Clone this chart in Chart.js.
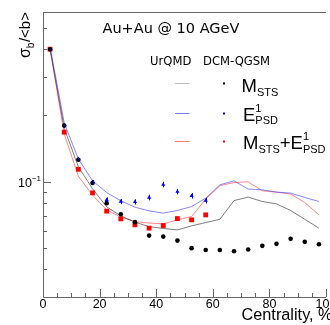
<!DOCTYPE html>
<html>
<head>
<meta charset="utf-8">
<script src="https://cdn.jsdelivr.net/npm/chart.js@4.4.1/dist/chart.umd.min.js"></script>
<style>
  html, body { margin: 0; padding: 0; background: #fff; overflow: hidden; }
  canvas { display: block; }
</style>
</head>
<body>
<canvas id="chart" width="330" height="325" style="width:330px;height:325px"></canvas>
<script>
// centrality bins (%), bin centres
const centrality = [2.5, 7.5, 12.5, 17.5, 22.5, 27.5, 32.5, 37.5, 42.5, 47.5,
  52.5, 57.5, 62.5, 67.5, 72.5, 77.5, 82.5, 87.5, 92.5, 97.5];

// UrQMD (lines)
const urqmdMsts = [0.400, 0.175, 0.117, 0.093, 0.077, 0.070, 0.0656, 0.0626, 0.0614, 0.0605,
  0.0631, 0.0653, 0.0676, 0.0822, 0.0852, 0.0814, 0.0794, 0.0741, 0.0676, 0.0616];
const urqmdEpsd = [0.410, 0.185, 0.127, 0.101, 0.0894, 0.082, 0.0767, 0.0738, 0.0721, 0.0741,
  0.0772, 0.0843, 0.0969, 0.101, 0.0927, 0.092, 0.0898, 0.0889, 0.0849, 0.0814];
const urqmdBoth = [0.400, 0.165, 0.106, 0.087, 0.0746, 0.0691, 0.066, 0.065, 0.0644, 0.0672,
  0.0696, 0.0834, 0.096, 0.0993, 0.100, 0.091, 0.0898, 0.088, 0.0805, 0.0708];

// DCM-QGSM (markers)
const dcmMsts = [0.400, 0.180, 0.126, 0.0987, 0.080, 0.0713, 0.0656, 0.057, 0.0564, 0.0541,
  0.050, 0.049, 0.049, 0.0484, 0.0493, 0.0512, 0.0523, 0.0551, 0.0534, 0.0521];
const dcmEpsd = [0.400, 0.180, 0.127, 0.100, 0.0828, 0.0814, 0.0811, 0.0849, 0.0972, 0.0903,
  0.0864, 0.0822];
const dcmEpsdErr = [0.003, 0.002, 0.002, 0.002, 0.0022, 0.0022, 0.0022, 0.0025, 0.0028, 0.0026,
  0.0025, 0.0025];
const dcmBoth = [0.400, 0.168, 0.114, 0.0891, 0.0736, 0.0679, 0.0638, 0.0616, 0.0633, 0.0681,
  0.0672, 0.0708];

const xMajor = [0, 20, 40, 60, 80, 100];
const xMinor = [5, 10, 15, 25, 30, 35, 45, 50, 55, 65, 70, 75, 85, 90, 95];
const yMajor = [0.1];
const yMinor = [0.04, 0.05, 0.06, 0.07, 0.08, 0.09, 0.2, 0.3, 0.4, 0.5];

const LINE_GRAY = "rgba(0, 0, 0, 0.5)";
const LINE_BLUE = "rgba(70, 70, 255, 0.65)";
const LINE_RED = "rgba(255, 70, 70, 0.65)";
const KEY_GRAY = "#bdbdbd";
const KEY_BLUE = "#7a7aff";
const KEY_RED = "#ff7a7a";
const SANS = "'Liberation Sans', Arial, sans-serif";
const DEJAVU = "'DejaVu Sans', sans-serif";

const pts = (ys) => ys.map((y, i) => ({ x: centrality[i], y }));

function lineSet(label, ys, color) {
  return {
    label, data: pts(ys), borderColor: color, borderWidth: 1,
    pointRadius: 0, tension: 0, fill: false, order: 2,
  };
}

function markerSet(label, ys, color, style, radius) {
  return {
    label, data: pts(ys), showLine: false, pointStyle: style, pointRadius: radius,
    pointBackgroundColor: color, pointBorderColor: color, pointBorderWidth: 0, order: 1,
  };
}

function text(ctx, str, x, y, font, align = "left") {
  ctx.font = font;
  ctx.textAlign = align;
  ctx.fillText(str, x, y);
  return ctx.measureText(str).width;
}

const axesPlugin = {
  id: "rootAxes",
  beforeDatasetsDraw(chart) {
    const { ctx, chartArea: a, scales } = chart;
    ctx.save();
    ctx.strokeStyle = "#666";
    ctx.lineWidth = 1;
    ctx.beginPath();
    ctx.moveTo(a.left + 0.5, a.top + 0.5);
    ctx.lineTo(a.right, a.top + 0.5);
    ctx.moveTo(a.left + 0.5, a.top);
    ctx.lineTo(a.left + 0.5, a.bottom + 0.5);
    ctx.lineTo(a.right, a.bottom + 0.5);
    xMajor.forEach((v) => {
      const x = Math.round(scales.x.getPixelForValue(v)) + 0.5;
      ctx.moveTo(x, a.bottom); ctx.lineTo(x, a.bottom - 8);
    });
    xMinor.forEach((v) => {
      const x = Math.round(scales.x.getPixelForValue(v)) + 0.5;
      ctx.moveTo(x, a.bottom); ctx.lineTo(x, a.bottom - 4);
    });
    yMajor.forEach((v) => {
      const y = Math.round(scales.y.getPixelForValue(v)) + 0.5;
      ctx.moveTo(a.left, y); ctx.lineTo(a.left + 8, y);
    });
    yMinor.forEach((v) => {
      const y = Math.round(scales.y.getPixelForValue(v)) + 0.5;
      ctx.moveTo(a.left, y); ctx.lineTo(a.left + 4, y);
    });
    ctx.stroke();
    ctx.restore();
  },
  afterDatasetsDraw(chart) {
    const { ctx, scales } = chart;
    // error bars on the E_PSD markers
    ctx.save();
    ctx.strokeStyle = "#0000ff";
    ctx.lineWidth = 1;
    ctx.beginPath();
    dcmEpsd.forEach((v, i) => {
      const x = Math.round(scales.x.getPixelForValue(centrality[i])) + 0.5;
      ctx.moveTo(x, scales.y.getPixelForValue(v + dcmEpsdErr[i]));
      ctx.lineTo(x, scales.y.getPixelForValue(v - dcmEpsdErr[i]));
    });
    ctx.stroke();
    ctx.restore();
  },
  afterDraw(chart) {
    const { ctx, scales } = chart;
    ctx.save();
    ctx.fillStyle = "#000";
    ctx.textBaseline = "alphabetic";

    // tick labels
    xMajor.forEach((v) => {
      text(ctx, String(v), scales.x.getPixelForValue(v), 308, `12.5px ${SANS}`, "center");
    });
    const y01 = scales.y.getPixelForValue(0.1);
    const w10 = text(ctx, "10", 18, y01 + 5, `12.5px ${SANS}`);
    text(ctx, "\u22121", 18 + w10, y01 - 1, `8px ${SANS}`);

    // axis titles
    text(ctx, "Centrality, %", 241.5, 319.5, `16.3px ${SANS}`);
    ctx.save();
    ctx.translate(30, 58);
    ctx.rotate(-Math.PI / 2);
    let x = 0;
    x += text(ctx, "\u03c3", x, 0, `16px ${SANS}`);
    x += text(ctx, "b", x, 3.5, `10px ${SANS}`);
    text(ctx, "/<b>", x + 0.5, 0, `15px ${SANS}`);
    ctx.restore();

    // title + legend
    text(ctx, "Au+Au @ 10 AGeV", 102.5, 32.5, `14.5px ${DEJAVU}`);
    text(ctx, "UrQMD", 150, 65, `11.6px ${DEJAVU}`);
    text(ctx, "DCM-QGSM", 203, 65, `11.6px ${DEJAVU}`);

    const rows = [
      { y: 83.5, line: KEY_GRAY, dot: "#000" },
      { y: 113.5, line: KEY_BLUE, dot: "#00f" },
      { y: 141.5, line: KEY_RED, dot: "#f00" },
    ];
    rows.forEach((r) => {
      ctx.strokeStyle = r.line;
      ctx.lineWidth = 1;
      ctx.beginPath();
      ctx.moveTo(175, r.y); ctx.lineTo(189.5, r.y);
      ctx.stroke();
      ctx.fillStyle = r.dot;
      ctx.fillRect(223, r.y - 1, 2, 2);
    });
    ctx.fillStyle = "#000";
    const big = `18.5px ${SANS}`;
    const small = `11px ${SANS}`;
    // M_STS
    x = 241.5;
    x += text(ctx, "M", x, 91.7, big);
    text(ctx, "STS", x, 95.5, small);
    // E^1_PSD
    x = 243;
    x += text(ctx, "E", x, 121, big);
    text(ctx, "1", x, 111.5, small);
    text(ctx, "PSD", x, 124, small);
    // M_STS + E^1_PSD
    x = 243;
    x += text(ctx, "M", x, 149, big);
    x += text(ctx, "STS", x, 152.5, small);
    x += text(ctx, "+", x, 149, big);
    x += text(ctx, "E", x, 149, big);
    text(ctx, "1", x, 139.5, small);
    text(ctx, "PSD", x, 152.5, small);
    ctx.restore();
  },
};

new Chart(document.getElementById("chart"), {
  type: "line",
  data: {
    datasets: [
      markerSet("M_STS (DCM-QGSM)", dcmMsts, "#000000", "circle", 2.3),
      markerSet("E_PSD (DCM-QGSM)", dcmEpsd, "#0000ff", "triangle", 2.4),
      markerSet("M_STS+E_PSD (DCM-QGSM)", dcmBoth, "#ff0000", "rect", 3.4),
      lineSet("M_STS (UrQMD)", urqmdMsts, LINE_GRAY),
      lineSet("E_PSD (UrQMD)", urqmdEpsd, LINE_BLUE),
      lineSet("M_STS+E_PSD (UrQMD)", urqmdBoth, LINE_RED),
    ],
  },
  options: {
    responsive: false,
    animation: false,
    devicePixelRatio: 1,
    layout: { padding: { left: 43, right: 0, top: 12, bottom: 28 } },
    plugins: { legend: { display: false }, tooltip: { enabled: false } },
    scales: {
      x: { type: "linear", min: 0, max: 100, display: false },
      y: { type: "logarithmic", min: 0.03, max: 0.59, display: false },
    },
  },
  plugins: [axesPlugin],
});
</script>
</body>
</html>
